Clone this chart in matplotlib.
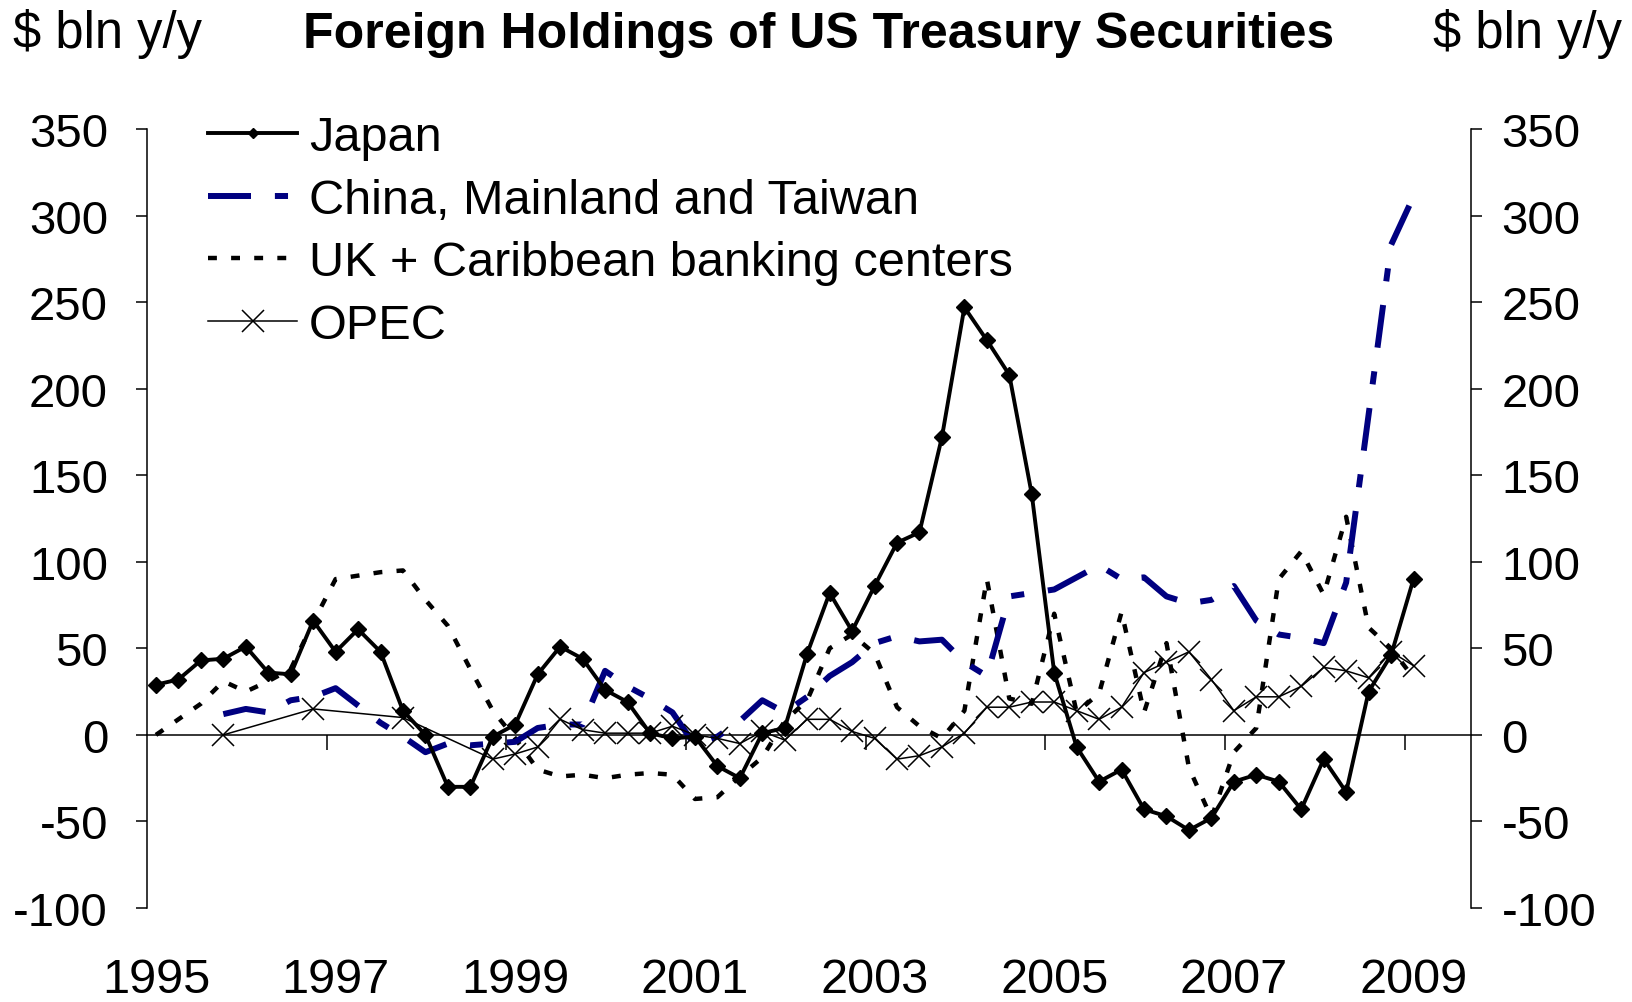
import numpy as np
import matplotlib.pyplot as plt

plt.rcParams['font.family'] = ['Liberation Sans', 'DejaVu Sans']
plt.rcParams['axes.unicode_minus'] = False

# quarterly data, 1995Q1 .. 2009Q1, $ bln y/y
quarters = 1995 + np.arange(57) / 4.0

japan = [29, 32, 43, 44, 51, 36, 35, 66, 48, 61, 48, 14, 0, -30, -30, -1,
         6, 35, 51, 44, 26, 19, 1, -2, -1, -18, -25, 1, 4, 47, 82, 60,
         86, 111, 117, 172, 247, 228, 208, 139, 36, -7, -27, -20, -43, -47, -55, -48,
         -27, -23, -27, -43, -14, -33, 25, 46, 90]

china = [np.nan, np.nan, np.nan, 12, 15, 13, 20, 22, 27, 17, 7, -1, -10, -5, -6, -5,
         -4, 4, 6, 6, 37, 28, 21, 13, -6, -1, 8, 20, 13, 22, 34, 42,
         53, 57, 54, 55, 42, 34, 80, 82, 84, 91, 98, 90, 91, 80, 76, 78,
         86, 66, 58, 56, 53, 88, 185, 283, 311]

uk = [0, 9, 18, 31, 25, 31, 38, 65, 90, 92, 94, 95, 78, 63, 38, 14,
      -2, -20, -24, -23, -25, -23, -22, -23, -37, -36, -24, -13, 8, 20, 50, 58,
      47, 16, 5, -2, 14, 90, 21, 18, 70, 13, 24, 71, 13, 53, -19, -48,
      -10, 4, 90, 106, 81, 126, 62, 50, 33]

# annual (Q4) before 1999, quarterly afterwards
opec = [np.nan, np.nan, np.nan, 0, np.nan, np.nan, np.nan, 15, np.nan, np.nan, np.nan, 10,
        np.nan, np.nan, np.nan, -14,
        -11, -7, 9, 3, 1, 1, 1, 5, 0, -2, -5, 2, -3, 9, 9, 2,
        -2, -14, -12, -7, 1, 16, 16, 19, 19, 14, 9, 16, 36, 42, 48, 32,
        14, 22, 22, 28, 39, 37, 33, 48, 40]

year_pos = [1995, 1997, 1999, 2001, 2003, 2005, 2007, 2009]
year_labels = ['1995', '1997', '1999', '2001', '2003', '2005', '2007', '2009']
y_ticks = [-100, -50, 0, 50, 100, 150, 200, 250, 300, 350]

fig = plt.figure(figsize=(16.33, 10.03), dpi=100)
ax = fig.add_axes([0.0900, 0.0937, 0.8108, 0.7767])

china = np.array(china)
opec = np.array(opec)
mc = ~np.isnan(china)
mo = ~np.isnan(opec)

ax.plot(quarters, japan, color='black', lw=2.8, marker='D', ms=8, mew=1,
        label='Japan', zorder=5)
ax.plot(quarters[mc], china[mc], color='#000080', lw=4.3, dashes=(7.2, 4, 2.2, 4),
        label='China, Mainland and Taiwan', zorder=4)
ax.plot(quarters, uk, color='black', lw=3.2, dashes=(2, 3.2),
        label='UK + Caribbean banking centers', zorder=3)
ax.plot(quarters[mo], opec[mo], color='black', lw=1.1, marker='x', ms=16, mew=1.1,
        label='OPEC', zorder=6)

ax.set_xlim(1994.90, 2009.64)
ax.set_ylim(-100, 350)
ax.set_yticks(y_ticks)

for s in ['top', 'right']:
    ax.spines[s].set_visible(False)
ax.spines['left'].set_linewidth(1.1)
ax.spines['bottom'].set_position(('data', 0))
ax.spines['bottom'].set_linewidth(1.1)

# tick marks on the zero line sit just before each labelled year
ax.set_xticks(np.array(year_pos[1:]) - 0.1)
ax.tick_params(axis='x', direction='out', length=10.5, width=1.1, labelbottom=False)
ax.tick_params(axis='y', direction='out', length=8, width=1.1, labelsize=34, pad=20)

sec = ax.secondary_xaxis('bottom')
sec.set_xticks(year_pos, year_labels)
sec.tick_params(length=0, labelsize=35, pad=35)
sec.spines['bottom'].set_visible(False)

ax2 = ax.twinx()
ax2.set_ylim(-100, 350)
ax2.set_yticks(y_ticks)
for s in ['top', 'left', 'bottom']:
    ax2.spines[s].set_visible(False)
ax2.spines['right'].set_linewidth(1.1)
ax2.tick_params(axis='y', direction='out', length=8, width=1.1, labelsize=34, pad=14)

leg = ax.legend(loc='upper left', bbox_to_anchor=(0.1274, 0.884),
                bbox_transform=fig.transFigure, frameon=False, fontsize=35,
                borderpad=0, borderaxespad=0, handlelength=1.83, handletextpad=0.25,
                labelspacing=0.36)
leg.legend_handles[0].set_markersize(5.5)

fig.text(0.501, 0.952, 'Foreign Holdings of US Treasury Securities', ha='center',
         va='baseline', fontsize=36, fontweight='bold')
fig.text(0.008, 0.952, '$ bln y/y', ha='left', va='baseline', fontsize=36.5)
fig.text(0.993, 0.952, '$ bln y/y', ha='right', va='baseline', fontsize=36.5)

fig.savefig('out.png', dpi=100)
